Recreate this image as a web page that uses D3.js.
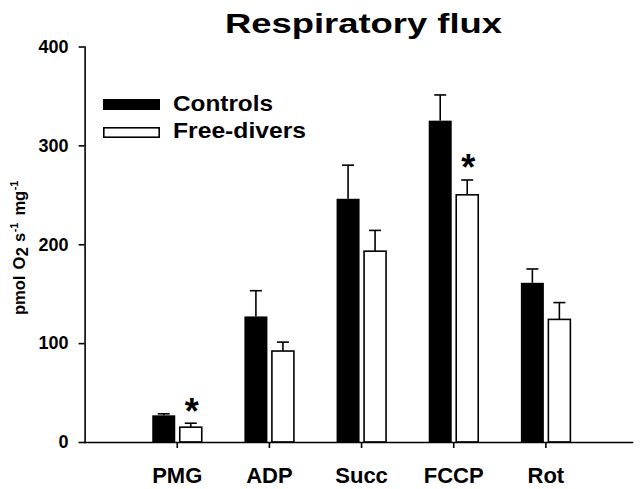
<!DOCTYPE html>
<html>
<head>
<meta charset="utf-8">
<script src="https://cdn.jsdelivr.net/npm/d3@7"></script>
<style>
  html, body { margin: 0; padding: 0; background: #fff; }
  svg { display: block; font-family: "Liberation Sans", Arial, sans-serif; font-weight: bold; }
</style>
</head>
<body>
<svg id="chart" width="642" height="489"></svg>
<script>
// ---- data ----
const categories = ["PMG", "ADP", "Succ", "FCCP", "Rot"];
const controls = [27, 127, 246, 325, 161];
const controlsErr = [1.5, 26, 34, 26, 14];
const freeDivers = [15, 92, 193, 250, 124];
const freeDiversErr = [4, 9, 21, 15, 17];
const freeDiversSignificant = [true, false, false, true, false];
const yTicks = [0, 100, 200, 300, 400];
const seriesNames = ["Controls", "Free-divers"];
const title = "Respiratory flux";

// ---- layout ----
const svg = d3.select("#chart");
const y = d3.scaleLinear().domain([0, 400]).range([442, 46.5]);
const x = d3.scaleLinear().domain([-1, 4.94]).range([84.6, 632]);

// bars
const barW = 23;
const g = svg.append("g");
categories.forEach((c, i) => {
  const cx = x(i);
  // controls (black)
  g.append("rect")
    .attr("x", cx - 24.5).attr("width", barW)
    .attr("y", y(controls[i])).attr("height", y(0) - y(controls[i]))
    .attr("fill", "#000");
  // free-divers (white)
  g.append("rect")
    .attr("x", cx + 3).attr("width", 22)
    .attr("y", y(freeDivers[i])).attr("height", y(0) - y(freeDivers[i]))
    .attr("fill", "#fff").attr("stroke", "#000").attr("stroke-width", 1.6);
  // error bars
  [[cx - 13, controls[i], controlsErr[i]], [cx + 14, freeDivers[i], freeDiversErr[i]]].forEach(([ex, v, e]) => {
    g.append("line").attr("x1", ex).attr("x2", ex)
      .attr("y1", y(v)).attr("y2", y(v + e))
      .attr("stroke", "#000").attr("stroke-width", 1.6);
    g.append("line").attr("x1", ex - 6).attr("x2", ex + 6)
      .attr("y1", y(v + e)).attr("y2", y(v + e))
      .attr("stroke", "#000").attr("stroke-width", 1.6);
  });
  if (freeDiversSignificant[i]) {
    g.append("text")
      .attr("x", cx + 15).attr("y", y(freeDivers[i] + freeDiversErr[i]) - 20 + 20.5)
      .attr("text-anchor", "middle").attr("font-size", 36).attr("fill", "#000")
      .text("*");
  }
});

// y axis
const yAxis = svg.append("g").attr("transform", "translate(84.6,0)")
  .call(d3.axisLeft(y).tickValues(yTicks).tickSize(6).tickSizeOuter(0).tickPadding(10));
yAxis.selectAll("text").attr("font-size", 18).attr("font-family", null).attr("fill", "#000");
yAxis.selectAll("path, line").attr("stroke", "#000").attr("stroke-width", 1.6);

// x axis
const xAxis = svg.append("g").attr("transform", "translate(0,442)")
  .call(d3.axisBottom(x).tickValues(d3.range(categories.length)).tickFormat(i => categories[i])
    .tickSize(6).tickSizeOuter(0));
xAxis.selectAll("text").attr("font-size", 22).attr("font-family", null).attr("fill", "#000")
  .attr("y", 41).attr("dy", 0);
xAxis.selectAll("path, line").attr("stroke", "#000").attr("stroke-width", 1.6);
svg.selectAll(".domain").attr("stroke-linecap", "square");

// title
svg.append("text").attr("x", 225).attr("y", 33)
  .attr("font-size", 28).attr("textLength", 277).attr("lengthAdjust", "spacingAndGlyphs")
  .text(title);

// legend
svg.append("rect").attr("x", 103).attr("y", 99).attr("width", 57).attr("height", 11).attr("fill", "#000");
svg.append("rect").attr("x", 103.8).attr("y", 127.8).attr("width", 55.4).attr("height", 9.4)
  .attr("fill", "#fff").attr("stroke", "#000").attr("stroke-width", 1.6);
svg.append("text").attr("x", 173).attr("y", 111).attr("font-size", 22)
  .attr("textLength", 100).attr("lengthAdjust", "spacingAndGlyphs").text(seriesNames[0]);
svg.append("text").attr("x", 173).attr("y", 137.5).attr("font-size", 22)
  .attr("textLength", 133).attr("lengthAdjust", "spacingAndGlyphs").text(seriesNames[1]);

// y axis label
const yl = svg.append("text").attr("transform", "translate(24.5,315) rotate(-90)")
  .attr("font-size", 16.5);
yl.append("tspan").text("pmol");
yl.append("tspan").attr("dx", 6).text("O");
yl.append("tspan").attr("dx", 0.5).attr("dy", 3).text("2");
yl.append("tspan").attr("dx", 5).attr("dy", -3).text("s");
yl.append("tspan").attr("dx", 0.5).attr("dy", -7).attr("font-size", 11).text("-1");
yl.append("tspan").attr("dx", 7).attr("dy", 7).text("mg");
yl.append("tspan").attr("dx", 0.5).attr("dy", -7).attr("font-size", 11).text("-1");
</script>
</body>
</html>
